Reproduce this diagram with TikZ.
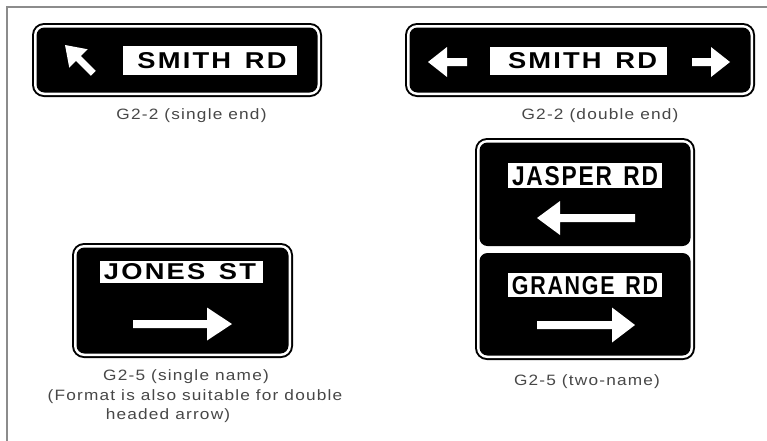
\documentclass[tikz,border=0pt]{standalone}
\usepackage{fontspec}
\usepackage{graphicx}
\newfontfamily\signfont{Liberation Sans}[LetterSpace=8]
\newfontfamily\captfont{Liberation Sans}[FakeStretch=1.15,LetterSpace=8]
\newcommand\signbg[4]{%
  \fill[black, rounded corners=12pt] (#1,#2) rectangle (#3,#4);
  \fill[white, rounded corners=10pt] (#1+2,#2+2) rectangle (#3-2,#4-2);
  \fill[black, rounded corners=8pt] (#1+4.5,#2+4.5) rectangle (#3-4.5,#4-4.5);}
% tail x, head-back x, tip x, y, shaft half, head half
\newcommand\harrow[6]{%
  \fill[white] (#1,#4-#5) -- (#2,#4-#5) -- (#2,#4-#6) -- (#3,#4) -- (#2,#4+#6) -- (#2,#4+#5) -- (#1,#4+#5) -- cycle;}
\newcommand\signtext[3]{\resizebox{#1pt}{#2pt}{\signfont\bfseries #3}}
\tikzset{
  panel/.style={fill=white},
  signlabel/.style={inner sep=0pt, anchor=center},
  captxt/.style={inner sep=0pt, anchor=base, text=black!72, font=\captfont\fontsize{15}{18}\selectfont},
  framel/.style={draw=black!45, line width=2pt}
}
\begin{document}
\begin{tikzpicture}[x=1pt, y=-1pt]
\useasboundingbox (0,0) rectangle (767,440);
\fill[white] (0,0) rectangle (767,440);
\draw[framel] (7,441) -- (7,7) -- (768,7);

% Sign 1: G2-2 single end
\signbg{32}{23}{322}{97}
\fill[panel] (123,46) rectangle (297,75);
\node[signlabel] (s1) at (212,60.5) {\signtext{149}{16}{SMITH\hspace{0.5em}RD}};
\begin{scope}[shift={(65,45)}, rotate=135]
  \fill[white] (0,0) -- (-19,13) -- (-19,3.5) -- (-40,3.5) -- (-40,-3.5) -- (-19,-3.5) -- (-19,-13) -- cycle;
\end{scope}
\node[captxt] (c1) at (191.5,119) {G2-2 (single end)};

% Sign 2: G2-2 double end
\signbg{405}{23}{755}{97}
\fill[panel] (490,47) rectangle (667,75);
\node[signlabel] (s2) at (582.5,60.5) {\signtext{149}{16}{SMITH\hspace{0.5em}RD}};
\harrow{467}{447}{428}{62}{4}{15}
\harrow{692}{711}{730}{62}{4}{15}
\node[captxt] (c2) at (600,119) {G2-2 (double end)};

% Sign 3: G2-5 single name
\signbg{72}{243}{293}{358}
\fill[panel] (100,261) rectangle (263,283);
\node[signlabel] (s3) at (180,272) {\signtext{152}{16}{JONES\hspace{0.5em}ST}};
\harrow{133}{207}{232}{324}{4}{16.5}
\node[captxt] (c3a) at (186,380.5) {G2-5 (single name)};
\node[captxt] (c3b) at (195,400.5) {(Format is also suitable for double};
\node[captxt] (c3c) at (168,419) {headed arrow)};

% Sign 4: G2-5 two-name
\fill[black, rounded corners=12pt] (475,138) rectangle (695,360);
\fill[white, rounded corners=10pt] (477,140) rectangle (693,358);
\fill[black, rounded corners=8pt] (479.5,142.5) rectangle (690.5,246);
\fill[black, rounded corners=8pt] (479.5,253) rectangle (690.5,355.5);
\fill[panel] (508,163) rectangle (662,188);
\node[signlabel] (s4a) at (585,176.5) {\signtext{146}{19}{JASPER\hspace{0.5em}RD}};
\harrow{635}{560}{537}{218}{4}{17}
\fill[panel] (508,273) rectangle (662,297);
\node[signlabel] (s4b) at (585,286) {\signtext{146}{18}{GRANGE\hspace{0.5em}RD}};
\harrow{537}{612}{635}{325}{4}{17.5}
\node[captxt] (c4) at (587,385) {G2-5 (two-name)};
\end{tikzpicture}
\end{document}
